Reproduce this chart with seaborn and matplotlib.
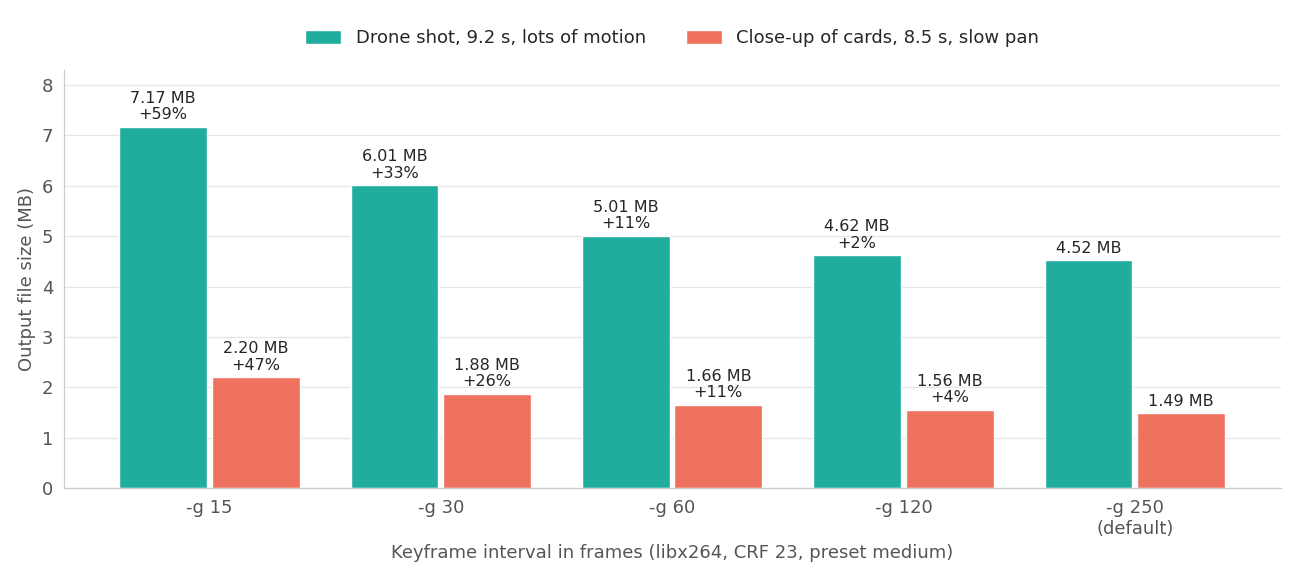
import pandas as pd
import matplotlib
matplotlib.use("Agg")
import matplotlib.pyplot as plt
import seaborn as sns

# values
settings = ["-g 15", "-g 30", "-g 60", "-g 120", "-g 250\n(default)"]
drone_mb = [7.17, 6.01, 5.01, 4.62, 4.52]
cards_mb = [2.20, 1.88, 1.66, 1.56, 1.49]
drone_pct = ["+59%", "+33%", "+11%", "+2%", ""]
cards_pct = ["+47%", "+26%", "+11%", "+4%", ""]
series = ["Drone shot, 9.2 s, lots of motion", "Close-up of cards, 8.5 s, slow pan"]

df = pd.DataFrame({
    "setting": settings * 2,
    "size": drone_mb + cards_mb,
    "clip": [series[0]] * len(settings) + [series[1]] * len(settings),
})

sns.set_theme(style="whitegrid")
plt.rcParams["font.family"] = ["DejaVu Sans"]

fig, ax = plt.subplots(figsize=(13, 5.8), dpi=100)
sns.barplot(data=df, x="setting", y="size", hue="clip",
            palette=["#20ad9e", "#ef725f"], width=0.8, gap=0.05,
            saturation=1, ax=ax, legend=True)

# labels above the bars
for cont, vals, pcts in zip(ax.containers, [drone_mb, cards_mb], [drone_pct, cards_pct]):
    for bar, v, p in zip(cont, vals, pcts):
        txt = f"{v:.2f} MB" + (f"\n{p}" if p else "")
        ax.annotate(txt, (bar.get_x() + bar.get_width() / 2, bar.get_height()),
                    xytext=(0, 3), textcoords="offset points",
                    ha="center", va="bottom", fontsize=11.5,
                    color="#262626", linespacing=1.15)

ax.set_ylim(0, 8.3)
ax.set_xlim(-0.63, 4.63)
ax.set_yticks(range(0, 9))
ax.set_xlabel("Keyframe interval in frames (libx264, CRF 23, preset medium)",
              fontsize=13, color="#555555", labelpad=4)
ax.set_ylabel("Output file size (MB)", fontsize=13, color="#555555")
ax.tick_params(axis="both", labelsize=13, colors="#555555", length=4,
               color="#999999", width=0.8)
ax.tick_params(axis="x", pad=4)
ax.grid(axis="y", color="#e6e6e6", linewidth=0.9)
ax.grid(axis="x", visible=False)
ax.set_axisbelow(True)
for s in ["top", "right"]:
    ax.spines[s].set_visible(False)
for s in ["left", "bottom"]:
    ax.spines[s].set_color("#cccccc")
    ax.spines[s].set_linewidth(0.9)

ax.legend(loc="upper center", bbox_to_anchor=(0.5, 1.135), ncol=2, frameon=False,
          fontsize=13, handlelength=2.0, handleheight=0.8, columnspacing=2.2,
          handletextpad=0.8)

fig.subplots_adjust(left=0.049, right=0.985, top=0.88, bottom=0.158)
fig.savefig("out.png", dpi=100)
